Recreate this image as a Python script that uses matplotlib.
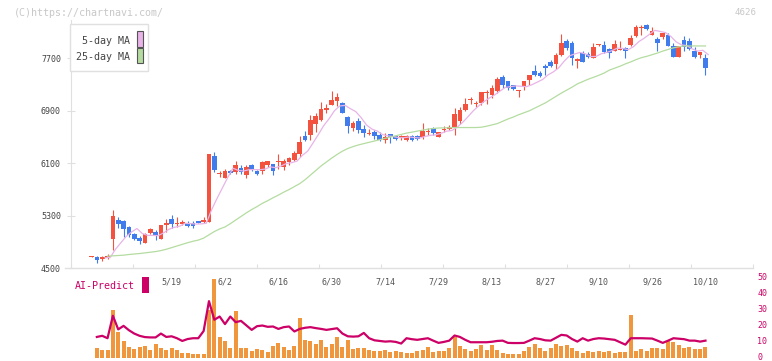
import numpy as np
import pandas as pd
import matplotlib
matplotlib.use("Agg")
import matplotlib.pyplot as plt
import matplotlib.transforms as mtransforms
from matplotlib.patches import Rectangle
from matplotlib.lines import Line2D

W, H = 772, 361

# daily OHLC, index 0 = 4/23 ... 115 = 10/10
opens = [4675, 4668, 4642, 4653, 4947, 5237, 5222, 5126, 5023, 4962,
         4886, 5039, 5059, 4947, 5161, 5248, 5180, 5176, 5187, 5190,
         5217, 5202, 5207, 6209, 5930, 5878, 5980, 5970, 6036, 5919,
         6072, 5980, 5990, 6072, 6087, 6120, 6046, 6117, 6153, 6240,
         6514, 6530, 6692, 6763, 6916, 6987, 7053, 7013, 6809, 6632,
         6743, 6621, 6550, 6570, 6530, 6453, 6545, 6514, 6478, 6453,
         6514, 6514, 6494, 6585, 6642, 6504, 6615, 6625, 6642, 6743,
         6911, 7070, 7005, 7023, 7170, 7140, 7206, 7410, 7354, 7288,
         7200, 7278, 7369, 7506, 7481, 7588, 7649, 7613, 7755, 7969,
         7938, 7664, 7776, 7766, 7709, 7900, 7903, 7842, 7816, 7835,
         7862, 7903, 8045, 8165, 8208, 8056, 7990, 8020, 8056, 7888,
         7725, 7979, 7964, 7812, 7750, 7700]
highs = [4685, 4683, 4694, 4714, 5385, 5278, 5240, 5151, 5039, 4988,
         5040, 5110, 5090, 5156, 5248, 5309, 5278, 5230, 5217, 5225,
         5225, 5278, 6245, 6270, 5990, 6010, 6005, 6128, 6072, 6072,
         6092, 6000, 6128, 6130, 6087, 6240, 6163, 6200, 6280, 6510,
         6590, 6830, 6870, 7030, 7000, 7200, 7176, 7030, 6824, 6743,
         6784, 6682, 6620, 6606, 6570, 6560, 6550, 6530, 6530, 6530,
         6530, 6530, 6710, 6640, 6660, 6580, 6670, 6680, 6937, 6952,
         7089, 7110, 7044, 7190, 7220, 7300, 7420, 7440, 7360, 7300,
         7215, 7360, 7450, 7598, 7500, 7620, 7680, 7786, 8070, 7990,
         7960, 7700, 7812, 7800, 7938, 7925, 7960, 7860, 7980, 7958,
         7870, 8050, 8210, 8200, 8230, 8180, 8030, 8085, 8080, 7930,
         7890, 8040, 8010, 7870, 7795, 7760]
lows = [4670, 4581, 4612, 4642, 4775, 5110, 4980, 4978, 4927, 4871,
        4886, 5030, 4927, 4947, 5054, 5115, 5126, 5160, 5126, 5115,
        5185, 5187, 5200, 5970, 5889, 5870, 5935, 5939, 5935, 5878,
        5990, 5920, 5939, 6040, 5919, 6010, 6000, 6080, 6140, 6200,
        6433, 6460, 6580, 6740, 6860, 6987, 6977, 6860, 6565, 6595,
        6555, 6504, 6530, 6475, 6438, 6408, 6410, 6460, 6460, 6440,
        6440, 6460, 6463, 6530, 6530, 6500, 6580, 6600, 6530, 6700,
        6900, 7000, 6952, 6990, 7000, 7090, 7170, 7250, 7220, 7210,
        7114, 7220, 7290, 7430, 7410, 7450, 7560, 7532, 7740, 7820,
        7600, 7557, 7640, 7700, 7700, 7880, 7780, 7710, 7810, 7820,
        7710, 7890, 8030, 8050, 8130, 8050, 7812, 7990, 7880, 7720,
        7720, 7810, 7820, 7700, 7700, 7445]
closes = [4680, 4627, 4672, 4683, 5293, 5176, 5106, 5008, 4947, 4917,
          5029, 5105, 4993, 5156, 5191, 5176, 5190, 5207, 5146, 5150,
          5190, 5237, 6240, 6000, 5945, 5990, 5950, 6072, 5960, 6041,
          6000, 5939, 6117, 6128, 5980, 6130, 6128, 6183, 6250, 6418,
          6453, 6753, 6824, 6926, 6940, 7064, 7114, 6870, 6672, 6718,
          6606, 6555, 6560, 6519, 6453, 6504, 6504, 6473, 6514, 6514,
          6453, 6473, 6595, 6595, 6555, 6570, 6630, 6650, 6850, 6911,
          7002, 7085, 7020, 7180, 7180, 7242, 7379, 7298, 7247, 7232,
          7210, 7354, 7445, 7445, 7435, 7557, 7583, 7750, 7938, 7853,
          7709, 7694, 7649, 7725, 7867, 7915, 7791, 7786, 7918, 7845,
          7816, 8015, 8172, 8180, 8142, 8117, 7938, 8081, 7893, 7725,
          7888, 7877, 7837, 7720, 7791, 7557]

# 25-day MA, from index 3
ma25 = [4685, 4690, 4695, 4700, 4710, 4718, 4725, 4735, 4745, 4755,
        4770, 4790, 4815, 4840, 4865, 4890, 4912, 4930, 4960, 5010,
        5060, 5100, 5130, 5180, 5235, 5290, 5345, 5395, 5440, 5490,
        5530, 5575, 5615, 5660, 5700, 5745, 5790, 5850, 5920, 5990,
        6060, 6120, 6180, 6235, 6285, 6325, 6355, 6380, 6400, 6420,
        6440, 6460, 6480, 6500, 6520, 6540, 6560, 6575, 6590, 6605,
        6620, 6630, 6638, 6640, 6642, 6645, 6645, 6645, 6645, 6645,
        6650, 6665, 6685, 6705, 6740, 6775, 6805, 6840, 6870, 6900,
        6940, 6980, 7020, 7070, 7120, 7170, 7215, 7260, 7310, 7345,
        7380, 7410, 7440, 7475, 7520, 7550, 7580, 7615, 7645, 7680,
        7710, 7730, 7755, 7780, 7810, 7835, 7860, 7875, 7888, 7888,
        7888, 7888, 7888]

# AI-Predict panel, from index 1
ai_bars = [6.5, 5, 5, 30, 16.5, 10.6, 7, 5.6, 7, 7.5,
           5, 8.8, 6.5, 5, 6.5, 5, 3.1, 3.1, 2.5, 2.5,
           2.5, 30, 49.4, 13.3, 10.6, 6.5, 29.4, 6.5, 6.5, 4.4,
           5.6, 5, 4, 7.5, 9.4, 7, 5, 7.5, 25.2, 11.3,
           10.6, 8.8, 11.3, 7, 8.8, 13.3, 7, 11.3, 5.6, 6.5,
           6.5, 5, 4.4, 4.4, 5, 4, 4.4, 3.8, 3.1, 3.1,
           4.4, 5, 6.9, 3.8, 4.4, 4.4, 6.3, 13.1, 7.5, 5.6,
           4.4, 5.6, 8.1, 5, 8.1, 5, 3.1, 2.5, 2.5, 2.5,
           4.4, 6.9, 8.8, 6.3, 4.4, 6.3, 8.8, 7.5, 8.1, 6.3,
           4.4, 3.1, 4.4, 3.8, 4.4, 3.8, 4.4, 3.1, 3.8, 3.8,
           26.9, 4.4, 5.6, 4.4, 6.3, 6.3, 5.6, 10.6, 10, 8.1,
           6.3, 6.9, 5.6, 5.6, 6.9]
ai_line = [13.3, 14.0, 12.5, 26.5, 18.0, 20.2, 17.5, 15.4, 14.0, 13.2,
           13.0, 13.0, 15.4, 13.3, 13.7, 12.5, 10.8, 12.0, 12.5, 12.5,
           17.0, 35.6, 24.0, 26.0, 21.3, 26.0, 22.5, 23.3, 20.5, 17.7,
           20.0, 20.4, 19.6, 19.8, 18.3, 19.4, 19.8, 16.7, 18.3, 19.0,
           19.4, 18.8, 18.3, 17.7, 18.2, 18.7, 15.4, 13.7, 13.5, 13.7,
           15.8, 12.5, 11.2, 10.8, 10.4, 10.6, 10.2, 9.2, 12.5, 11.9,
           11.5, 12.0, 12.5, 11.0, 9.6, 10.2, 11.0, 14.2, 13.3, 11.5,
           10.0, 10.0, 10.0, 10.0, 10.3, 10.8, 11.0, 9.6, 9.5, 9.5,
           9.6, 11.0, 12.5, 12.0, 11.2, 11.0, 12.8, 14.6, 14.2, 12.0,
           10.4, 12.5, 11.0, 12.0, 12.5, 12.3, 11.9, 11.5, 10.0, 8.5,
           12.5, 12.5, 12.5, 12.4, 12.3, 11.0, 9.6, 11.0, 12.5, 12.2,
           11.9, 11.0, 11.0, 10.4, 11.0]

date_labels = ['5/19', '6/2', '6/16', '6/30', '7/14', '7/29', '8/13', '8/27', '9/10', '9/26', '10/10']
date_pos = [15, 25, 35, 45, 55, 65, 75, 85, 95, 105, 115]
price_ticks = [4500, 5300, 6100, 6900, 7700]
ai_ticks = [0, 10, 20, 30, 40, 50]

RED = '#f3523e'
BLUE = '#407cec'
PINK = '#e8b4e8'
GREEN = '#b4dca0'
ORANGE = '#f0963c'
MAGENTA = '#cc0066'
AXIS = '#e0e0e0'
MONO = 'DejaVu Sans Mono'


def fbox(x0, y0, x1, y1):
    return [x0 / W, 1 - y1 / H, (x1 - x0) / W, (y1 - y0) / H]


fig = plt.figure(figsize=(W / 100, H / 100), dpi=100)

xmin, xmax = -3.9, 123.9
ax = fig.add_axes(fbox(70.7, 20, 753, 268.3))
ax.set_xlim(xmin, xmax)
ax.set_ylim(4500, 4500 + (268.3 - 20) / 0.065625)

o = np.array(opens, float)
c = np.array(closes, float)
x = np.arange(len(c))
cols = np.where(c >= o, RED, BLUE)
ax.vlines(x, lows, highs, colors=cols, lw=0.8)
body = np.maximum(np.abs(c - o), 14)
bottom = np.minimum(o, c) - (body - np.abs(c - o)) / 2
ax.bar(x, body, bottom=bottom, width=0.88, color=cols, linewidth=0)

ma5 = pd.Series(closes).rolling(5, min_periods=3).mean()
ax.plot(x + 0.5, ma5, color=PINK, lw=0.9)
ax.plot(np.arange(3, 3 + len(ma25)), ma25, color=GREEN, lw=0.9)

for s in ['top', 'right', 'bottom']:
    ax.spines[s].set_visible(False)
ax.spines['left'].set_color(AXIS)
ax.set_yticks(price_ticks)
ax.set_yticklabels([str(t) for t in price_ticks], fontsize=6, family=MONO, color='#444444')
ax.tick_params(axis='y', direction='inout', length=6, color=AXIS, pad=4)
ax.set_xticks(np.linspace(xmin, xmax, 12))
ax.set_xticklabels([])
ax.tick_params(axis='x', direction='in', length=3, color=AXIS)
fig.add_artist(Line2D([65 / W, 753 / W], [1 - 268.3 / H] * 2, color=AXIS, lw=1))

# legend box
fig.add_artist(Rectangle((70 / W, 1 - 71 / H), 78 / W, 47 / H, transform=fig.transFigure,
                         facecolor='white', edgecolor=AXIS, lw=1))
fig.text(130 / W, 1 - 40.5 / H, '5-day MA', ha='right', va='center', fontsize=7.2, family=MONO, color='#444444')
fig.text(130 / W, 1 - 57 / H, '25-day MA', ha='right', va='center', fontsize=7.2, family=MONO, color='#444444')
fig.add_artist(Rectangle((136.5 / W, 1 - 46.5 / H), 6 / W, 15 / H, transform=fig.transFigure,
                         facecolor=PINK, edgecolor='#555555', lw=0.8))
fig.add_artist(Rectangle((136.5 / W, 1 - 63.3 / H), 6 / W, 15 / H, transform=fig.transFigure,
                         facecolor=GREEN, edgecolor='#555555', lw=0.8))

fig.text(14 / W, 1 - 12.5 / H, '(C)https://chartnavi.com/', ha='left', va='center',
         fontsize=7.2, family=MONO, color='#c8c8c8')
fig.text(757 / W, 1 - 12.5 / H, '4626', ha='right', va='center', fontsize=6.6, family=MONO, color='#c8c8c8')

# AI-Predict panel
ax2 = fig.add_axes(fbox(70.7, 278, 753, 358.3))
ax2.set_xlim(xmin, xmax)
ax2.set_ylim(0, 50)
xa = np.arange(1, 1 + len(ai_bars))
ax2.bar(xa, ai_bars, width=0.75, color=ORANGE, linewidth=0)
ax2.plot(xa, ai_line, color=MAGENTA, lw=1.6)
for s in ax2.spines.values():
    s.set_visible(False)
ax2.set_xticks([])
ax2.yaxis.tick_right()
ax2.set_yticks(ai_ticks)
ax2.set_yticklabels([str(t) for t in ai_ticks], fontsize=6, family=MONO, color=MAGENTA)
ax2.tick_params(axis='y', length=0, pad=3)
# nudge the right labels up a little so "0" stays inside the canvas
shift = mtransforms.ScaledTranslation(0, 2 / 100, fig.dpi_scale_trans)
for lab in ax2.get_yticklabels():
    lab.set_transform(lab.get_transform() + shift)
for p, lab in zip(date_pos, date_labels):
    ax2.text(p, 0.95, lab, transform=ax2.get_xaxis_transform(), ha='center', va='center',
             fontsize=6, family=MONO, color='#555555')

fig.text(75 / W, 1 - 286 / H, 'AI-Predict', ha='left', va='center', fontsize=7.2, family=MONO, color=MAGENTA)
fig.add_artist(Rectangle((142 / W, 1 - 293 / H), 7 / W, 16 / H, transform=fig.transFigure,
                         facecolor=MAGENTA, edgecolor='none'))

fig.savefig('out.png', dpi=100)
plt.close()
